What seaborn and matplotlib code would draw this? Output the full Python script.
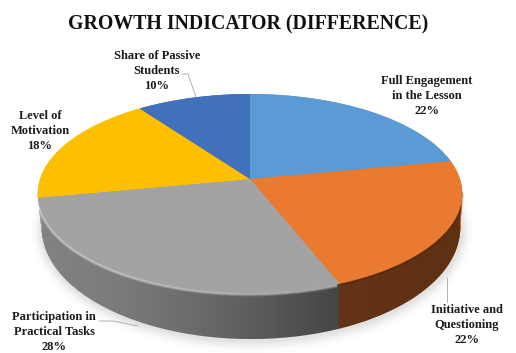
import numpy as np
import matplotlib
matplotlib.use("Agg")
import matplotlib.pyplot as plt
from matplotlib.path import Path
from matplotlib.patches import PathPatch
from matplotlib.transforms import Transform
import seaborn as sns

categories = ["Full Engagement\nin the Lesson", "Initiative and\nQuestioning",
              "Participation in\nPractical Tasks", "Level of\nMotivation",
              "Share of Passive\nStudents"]
values = [22, 22, 28, 18, 10]
title = "GROWTH INDICATOR (DIFFERENCE)"
colors = ["#5b9bd5", "#e97a30", "#a3a3a3", "#fdbf00", "#4170bd"]


class Tilt(Transform):
    # unit pie -> image pixels, with perspective so the apex sits above the middle
    input_dims = 2
    output_dims = 2

    def __init__(self, cx, cy, a, b, k=0.1457):
        super().__init__()
        self.cx, self.cy, self.a, self.b, self.k = cx, cy, a, b, k

    def transform_non_affine(self, xy):
        xy = np.asarray(xy, dtype=float)
        w = 1 + self.k * xy[:, 1]
        return np.column_stack([self.cx + self.a * xy[:, 0] / w,
                                self.cy - self.b * xy[:, 1] / w])


def draw_pie(ax, tilt, cols, zorder):
    wedges, _ = ax.pie(values, colors=cols, startangle=90, counterclock=False,
                       wedgeprops={"linewidth": 0})
    for w in wedges:
        w.set_transform(tilt + ax.transData)
        w.set_zorder(zorder)


def ring(tilt, a0=0, a1=360, n=240):
    t = np.radians(np.linspace(a0, a1, n))
    return tilt.transform_non_affine(np.column_stack([np.cos(t), np.sin(t)]))


sns.set_theme(style="white")
fig, ax = plt.subplots(figsize=(5.16, 3.53), dpi=100)
fig.subplots_adjust(0, 0, 1, 1)

top = Tilt(250, 179, 210, 97.4)
low = Tilt(251, 211.8, 207, 108.7)

# soft shadow under the disc
for grow, alpha in zip([11, 8, 6, 4, 2], [0.025, 0.035, 0.045, 0.055, 0.07]):
    s = Tilt(252, 213, 207 + grow, 108.7 + grow)
    ax.fill(*ring(s).T, color="#808080", alpha=alpha, lw=0, zorder=1)

# rim: stacked pies between the lower and upper disc
for z, f in enumerate(np.linspace(0, 1, 40)):
    layer = Tilt(low.cx + (top.cx - low.cx) * f, low.cy + (top.cy - low.cy) * f,
                 low.a + (top.a - low.a) * f, low.b + (top.b - low.b) * f)
    draw_pie(ax, layer, colors, 2 + z * 0.001)

# horizontal shading of the rim
xs = np.arange(516)
shade = np.interp(xs, [38, 120, 220, 340, 463], [0.2, 0.25, 0.38, 0.58, 0.60])
rgba = np.zeros((1, 516, 4))
rgba[0, :, 3] = shade
im = ax.imshow(rgba, extent=(0, 516, 353, 0), aspect="auto", zorder=3)
clip = PathPatch(Path(np.vstack([ring(low, 186, 354), ring(top, 354, 186)])),
                 transform=ax.transData, fc="none", lw=0)
ax.add_patch(clip)
im.set_clip_path(clip)

# bevel highlight along the front edge of the top face
front = ring(Tilt(250, 180, 210, 97.4), 192, 291)
for lw, alpha in zip([3.6, 2.4, 1.2], [0.12, 0.2, 0.3]):
    ax.plot(*front.T, color="white", lw=lw, alpha=alpha, zorder=3.5,
            solid_capstyle="butt")

draw_pie(ax, top, colors, 4)

# soft dark lip on the orange side
edge = ring(Tilt(250, 180, 210, 97.4), 292, 352)
for lw, alpha in zip([2.6, 1.2], [0.10, 0.15]):
    ax.plot(*edge.T, color="#3a1c06", lw=lw, alpha=alpha, zorder=3.6)

ax.set_aspect("auto")
ax.set_xlim(0, 516)
ax.set_ylim(353, 0)
ax.axis("off")

font = "Liberation Serif"
ax.text(248, 24, title, ha="center", va="center", family=font,
        weight="bold", fontsize=14.35, color="#111111")

spots = [(427, 96), (467, 325), (54, 332), (40, 131), (157, 71)]
for (x, y), name, v in zip(spots, categories, values):
    ax.text(x, y, f"{name}\n{v}%", ha="center", va="center", family=font,
            weight="bold", fontsize=9, linespacing=1.28, color="#1c1c1c", zorder=6)

for line in [[(182, 74), (188, 74), (196, 97)], [(447, 277), (447, 302)],
             [(99, 321), (113, 321), (138, 326)]]:
    ax.plot(*zip(*line), color="#a6a6a6", lw=0.6, zorder=6)

fig.savefig("out.png", dpi=100)
